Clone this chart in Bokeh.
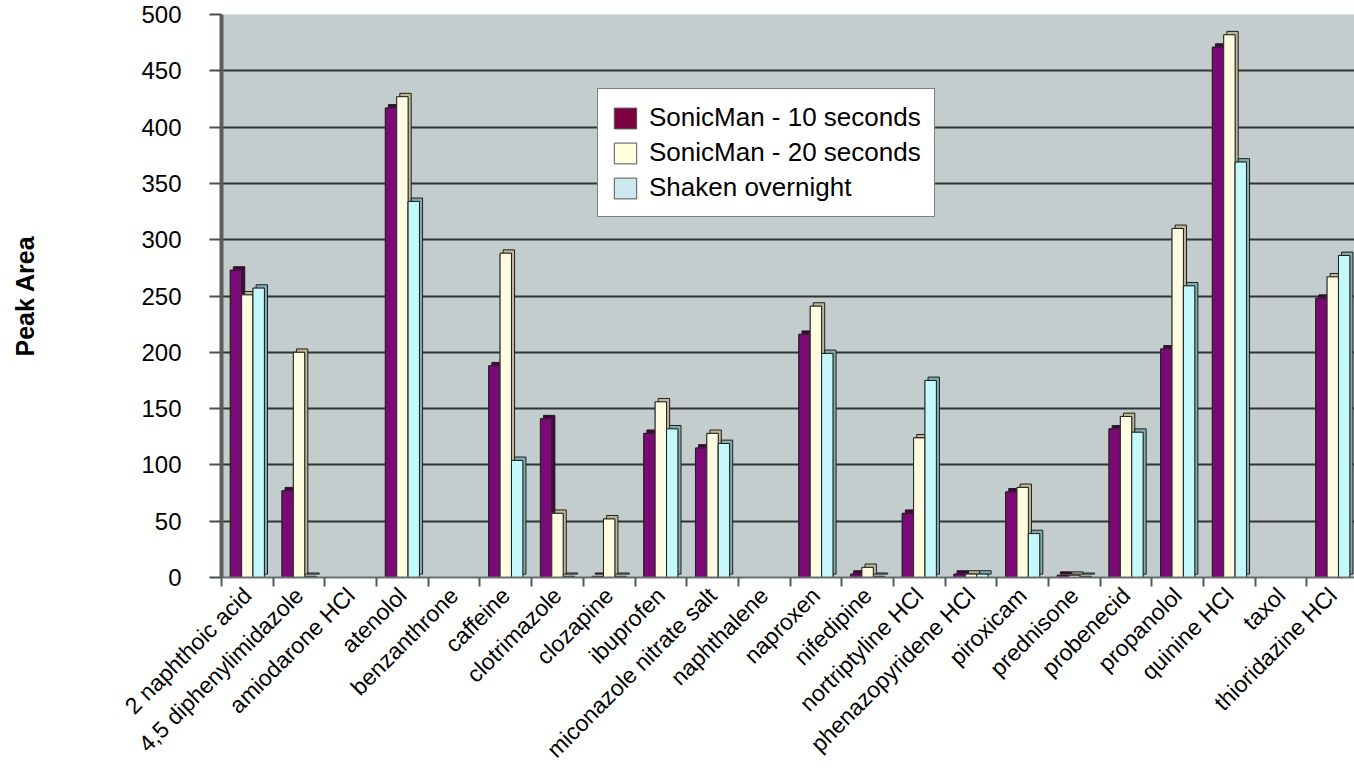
import math

from bokeh.embed import file_html
from bokeh.models import (ColumnDataSource, FixedTicker, Label, Legend,
                          LegendItem, Range1d)
from bokeh.plotting import figure
from bokeh.resources import INLINE

# ---- data -----------------------------------------------------------------
compounds = [
    "2 naphthoic acid", "4,5 diphenylimidazole", "amiodarone HCl", "atenolol",
    "benzanthrone", "caffeine", "clotrimazole", "clozapine", "ibuprofen",
    "miconazole nitrate salt", "naphthalene", "naproxen", "nifedipine",
    "nortriptyline HCl", "phenazopyridene HCl", "piroxicam", "prednisone",
    "probenecid", "propanolol", "quinine HCl", "taxol", "thioridazine HCl",
]
sonicman_10s = [273, 77, 0, 417, 0, 188, 141, 1, 128, 115, 0, 216, 3, 57, 3, 76, 2, 132, 203, 471, 0, 248]
sonicman_20s = [251, 200, 0, 427, 0, 288, 57, 52, 156, 128, 0, 241, 9, 124, 3, 80, 2, 143, 310, 482, 0, 267]
shaken_overnight = [257, 1, 0, 334, 0, 104, 1, 1, 132, 119, 0, 199, 1, 175, 3, 39, 1, 129, 259, 369, 0, 286]
series_names = ["SonicMan - 10 seconds", "SonicMan - 20 seconds", "Shaken overnight"]
y_ticks = [0, 50, 100, 150, 200, 250, 300, 350, 400, 450, 500]

FONT = "Liberation Sans"

# ---- figure ---------------------------------------------------------------
p = figure(
    width=1354, height=774,
    x_range=Range1d(0, 21.92), y_range=Range1d(0, 500),
    output_backend="svg", toolbar_location=None,
    min_border_left=221, min_border_right=0,
    min_border_top=14, min_border_bottom=197,
)
p.background_fill_color = "#c3cdcd"
p.border_fill_color = "white"
p.outline_line_color = None

# horizontal grid on the back wall
p.xgrid.grid_line_color = None
p.ygrid.ticker = FixedTicker(ticks=y_ticks)
p.ygrid.grid_line_color = "#2e3535"
p.ygrid.grid_line_width = 2

# value axis
p.yaxis.ticker = FixedTicker(ticks=y_ticks)
p.yaxis.axis_line_color = "#5a5f5f"
p.yaxis.axis_line_width = 4
p.yaxis.major_tick_line_color = "#4a4f4f"
p.yaxis.major_tick_line_width = 2
p.yaxis.major_tick_out = 12
p.yaxis.major_tick_in = 0
p.yaxis.minor_tick_line_color = None
p.yaxis.major_label_text_font = FONT
p.yaxis.major_label_text_font_size = "24px"
p.yaxis.major_label_text_color = "black"
p.yaxis.major_label_standoff = 28
p.yaxis.axis_label = "Peak Area"
p.yaxis.axis_label_text_font = FONT
p.yaxis.axis_label_text_font_size = "25px"
p.yaxis.axis_label_text_font_style = "bold"
p.yaxis.axis_label_text_color = "black"
p.yaxis.axis_label_standoff = 99

# category axis: labels centred on each compound, tick marks between them
n = len(compounds)
centers = [i + 0.5 for i in range(n)]
p.xaxis.ticker = FixedTicker(ticks=centers, minor_ticks=list(range(n + 1)))
p.xaxis.major_label_overrides = {c: name for c, name in zip(centers, compounds)}
p.xaxis.major_label_orientation = math.pi / 4
p.xaxis.major_label_text_font = FONT
p.xaxis.major_label_text_font_size = "23px"
p.xaxis.major_label_text_color = "black"
p.xaxis.major_label_standoff = 5
p.xaxis.major_tick_out = 0
p.xaxis.major_tick_in = 0
p.xaxis.minor_tick_out = 9
p.xaxis.minor_tick_in = 0
p.xaxis.minor_tick_line_color = "#555a5a"
p.xaxis.minor_tick_line_width = 2
p.xaxis.axis_line_color = "#6a6f6f"
p.xaxis.axis_line_width = 2

# ---- bars -----------------------------------------------------------------
front_colors = ["#7b0a76", "#fffbe0", "#c4f8fa"]
side_colors = ["#48003f", "#bdb898", "#7eaeb2"]
swatch_colors = ["#7a0040", "#ffffdd", "#cde9ef"]
offsets = [0.28, 0.50, 0.72]
bar_w = 0.22
depth_x = 0.06   # shift of the shaded side face, in category units
depth_y = 3.0    # lift of the shaded side face, in value units

items = []
for name, vals, off, fc, sc, kc in zip(series_names,
                                       [sonicman_10s, sonicman_20s, shaken_overnight],
                                       offsets, front_colors, side_colors, swatch_colors):
    src = ColumnDataSource(dict(
        x=[i + off for i in range(n)],
        top=vals,
        xs=[i + off + depth_x for i in range(n)],
        top_s=[v + depth_y if v > 0 else 0 for v in vals],
        bottom_s=[depth_y if v > 0 else 0 for v in vals],
    ))
    # shaded side face
    p.vbar(x="xs", top="top_s", bottom="bottom_s", width=bar_w, source=src,
           fill_color=sc, line_color="#1e1e1e", line_width=1)
    # key swatch colour (sits under the front face, shown in the legend)
    key = p.vbar(x="x", top="top", bottom=0, width=bar_w, source=src,
                 fill_color=kc, line_color="#555555", line_width=1)
    # front face
    p.vbar(x="x", top="top", bottom=0, width=bar_w, source=src,
           fill_color=fc, line_color="#1e1e1e", line_width=1)
    items.append(LegendItem(label=name, renderers=[key]))

# ---- legend ---------------------------------------------------------------
legend = Legend(
    items=items, location=(376, 360),
    label_text_font=FONT, label_text_font_size="26px", label_text_color="black",
    glyph_width=28, glyph_height=26, label_height=26, spacing=4,
    padding=13, label_standoff=10, margin=0,
    border_line_color="black", border_line_width=1,
    background_fill_color="white", background_fill_alpha=1.0,
)
p.add_layout(legend, "center")

# ---- title, sitting in the thin strip just above the plot area ------------
title = Label(
    x=554, y=501, x_units="screen", y_units="data",
    text="Peak Area: SonicMan compared to Shaken overnight (HPLC)",
    text_align="center", text_baseline="bottom",
    text_font=FONT, text_font_size="12px", text_font_style="bold",
    text_color="black",
)
p.add_layout(title)

open("out.html", "w").write(file_html(p, INLINE))
